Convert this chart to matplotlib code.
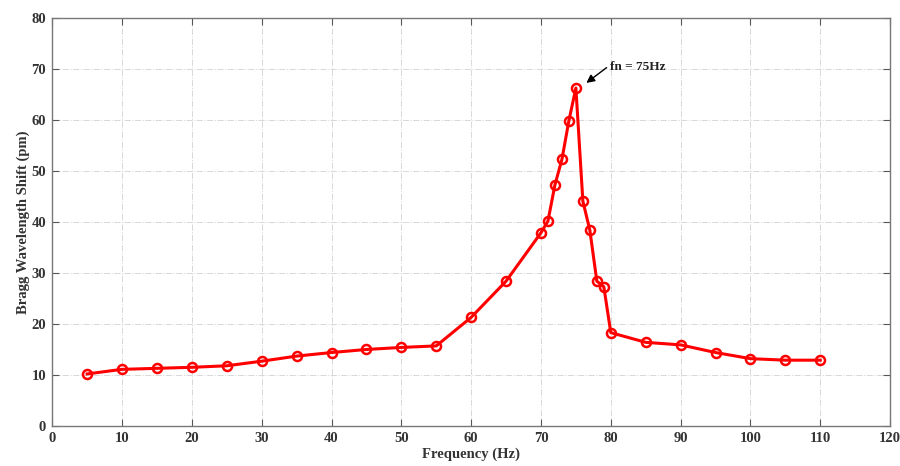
import matplotlib.pyplot as plt

freq = [5, 10, 15, 20, 25, 30, 35, 40, 45, 50, 55, 60, 65, 70, 71, 72, 73, 74, 75,
        76, 77, 78, 79, 80, 85, 90, 95, 100, 105, 110]
shift = [10.2, 11.1, 11.3, 11.5, 11.8, 12.7, 13.7, 14.4, 15.0, 15.4, 15.7, 21.3, 28.4,
         37.9, 40.2, 47.3, 52.3, 59.9, 66.3, 44.1, 38.4, 28.4, 27.3, 18.3, 16.4, 15.9,
         14.4, 13.2, 12.9, 12.9]

plt.rcParams['font.family'] = ['Liberation Serif', 'DejaVu Serif']
plt.rcParams['font.weight'] = 'bold'

fig = plt.figure(figsize=(9, 4.66), dpi=100)
ax = fig.add_axes([0.058, 0.086, 0.931, 0.875])

ax.plot(freq, shift, color='#ff0000', lw=2.2, marker='o', ms=6.5,
        mfc='none', mec='#ff0000', mew=1.8)

ax.set_xlim(0, 120)
ax.set_ylim(0, 80)
ax.set_xticks(range(0, 121, 10))
ax.set_yticks(range(0, 81, 10))
ax.grid(True, color='#d8d8d8', ls='-.', lw=0.7)
ax.tick_params(direction='in', top=True, right=True, labelsize=10.5,
               color='#555555', length=5, labelcolor='#333333')
ax.tick_params(axis='y', pad=4.5)
ax.tick_params(axis='x', pad=4.5)
for s in ax.spines.values():
    s.set_color('#777777')
    s.set_linewidth(1.0)

ax.set_xlabel('Frequency (Hz)', fontsize=10.5, fontweight='bold', color='#333333', labelpad=2)
ax.set_ylabel('Bragg Wavelength Shift (pm)', fontsize=10.5, fontweight='bold', color='#333333', labelpad=1)

# arrow and label for the resonance peak
ax.annotate('', xy=(76.5, 67.3), xytext=(79.4, 70.3),
            arrowprops=dict(arrowstyle='-|>', color='black', lw=1.0,
                            shrinkA=0, shrinkB=0, mutation_scale=12))
ax.text(79.9, 70.5, 'fn = 75Hz', fontsize=9.5, fontweight='bold',
        color='#222222', va='center', ha='left')

fig.savefig('out.png', dpi=100)
